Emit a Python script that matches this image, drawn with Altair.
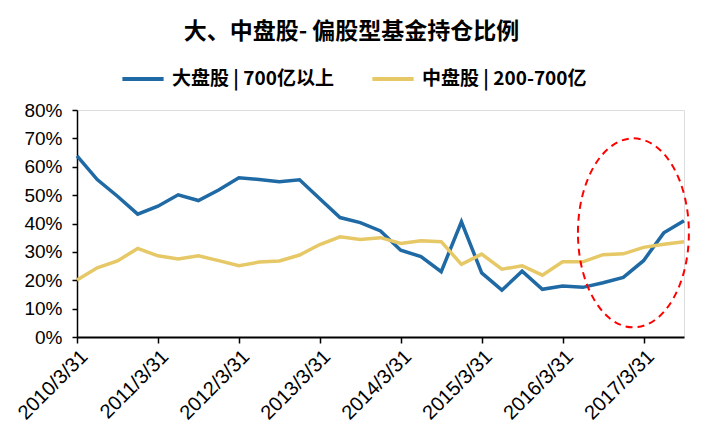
import json
import altair as alt
import pandas as pd

dates = [
    "2010/3/31", "2010/6/30", "2010/9/30", "2010/12/31",
    "2011/3/31", "2011/6/30", "2011/9/30", "2011/12/31",
    "2012/3/31", "2012/6/30", "2012/9/30", "2012/12/31",
    "2013/3/31", "2013/6/30", "2013/9/30", "2013/12/31",
    "2014/3/31", "2014/6/30", "2014/9/30", "2014/12/31",
    "2015/3/31", "2015/6/30", "2015/9/30", "2015/12/31",
    "2016/3/31", "2016/6/30", "2016/9/30", "2016/12/31",
    "2017/3/31", "2017/6/30", "2017/9/30",
]
large_cap = [
    0.638, 0.555, 0.496, 0.433, 0.461, 0.501, 0.481, 0.518,
    0.561, 0.555, 0.547, 0.554, 0.487, 0.421, 0.403, 0.374,
    0.306, 0.283, 0.230, 0.406, 0.226, 0.165, 0.232, 0.168,
    0.180, 0.175, 0.191, 0.210, 0.269, 0.367, 0.410,
]
mid_cap = [
    0.201, 0.244, 0.268, 0.312, 0.286, 0.275, 0.286, 0.269,
    0.251, 0.264, 0.268, 0.289, 0.326, 0.353, 0.344, 0.350,
    0.330, 0.339, 0.336, 0.256, 0.292, 0.239, 0.251, 0.218,
    0.265, 0.265, 0.290, 0.293, 0.316, 0.327, 0.336,
]
series_names = ["大盘股 | 700亿以上", "中盘股 | 200-700亿"]
series_colors = ["#1F6AA5", "#E6C866"]
y_ticks = [0.0, 0.1, 0.2, 0.3, 0.4, 0.5, 0.6, 0.7, 0.8]

# annotation ellipse (centre in data units)
ellipse_center = {"idx": 27.5, "value": 0.367}

rows = []
for i, d in enumerate(dates):
    rows.append({"idx": i, "date": d, "series": series_names[0], "value": large_cap[i]})
    rows.append({"idx": i, "date": d, "series": series_names[1], "value": mid_cap[i]})
df = pd.DataFrame(rows)

label_expr = json.dumps(dates) + "[datum.value]"

x_enc = alt.X(
    "idx:Q",
    scale=alt.Scale(domain=[0, len(dates) - 1], nice=False, zero=False),
    axis=alt.Axis(
        values=list(range(0, len(dates), 4)),
        labelExpr=label_expr,
        labelAngle=-45,
        labelFontSize=20,
        labelFont="Liberation Sans",
        labelColor="#000000",
        labelOverlap=False,
        tickColor="#000000",
        tickSize=6,
        tickWidth=1.5,
        domainColor="#000000",
        domainWidth=2,
        grid=False,
        title=None,
        labelPadding=3,
    ),
)
y_enc = alt.Y(
    "value:Q",
    scale=alt.Scale(domain=[0, 0.8], nice=False),
    axis=alt.Axis(
        values=y_ticks,
        format=".0%",
        labelFontSize=19,
        labelFont="Liberation Sans",
        labelColor="#000000",
        labelOverlap=False,
        labelFlush=False,
        tickColor="#000000",
        tickSize=5,
        tickWidth=1.5,
        domainColor="#000000",
        domainWidth=1.5,
        grid=False,
        title=None,
        labelPadding=10,
    ),
)

lines = alt.Chart(df).mark_line(strokeWidth=3.5).encode(
    x=x_enc,
    y=y_enc,
    color=alt.Color(
        "series:N",
        scale=alt.Scale(domain=series_names, range=series_colors),
        sort=series_names,
        legend=alt.Legend(
            title=None,
            orient="none",
            legendX=43,
            legendY=-54,
            direction="horizontal",
            symbolType="stroke",
            symbolSize=1700,
            symbolStrokeWidth=4,
            labelFont="Noto Sans CJK SC",
            labelFontSize=19,
            labelFontWeight="bold",
            labelColor="#000000",
            labelLimit=400,
            columnPadding=30,
            labelOffset=6,
        ),
    ),
)

ell = alt.Chart(pd.DataFrame([ellipse_center])).mark_point(
    filled=False,
    stroke="#FF0000",
    strokeWidth=2,
    strokeDash=[7, 5],
    opacity=1,
).encode(
    x=x_enc,
    y=y_enc,
    shape=alt.value("M -0.587 0 A 0.587 1 0 1 1 0.587 0 A 0.587 1 0 1 1 -0.587 0 Z"),
    size=alt.value(35721),
)

chart = alt.layer(lines, ell).properties(
    width=607,
    height=227,
    autosize=alt.AutoSizeParams(type="none"),
    padding={"left": 77, "top": 110, "right": 30, "bottom": 104},
    title=alt.Title(
        "大、中盘股- 偏股型基金持仓比例",
        font="Noto Sans CJK SC",
        fontSize=23,
        fontWeight="bold",
        color="#000000",
        anchor="middle",
        dx=-29,
        offset=12,
    ),
).configure_view(strokeOpacity=0, strokeWidth=0).configure(background="#FFFFFF")

chart.save("out.html", embed_options={"renderer": "svg", "actions": False})
